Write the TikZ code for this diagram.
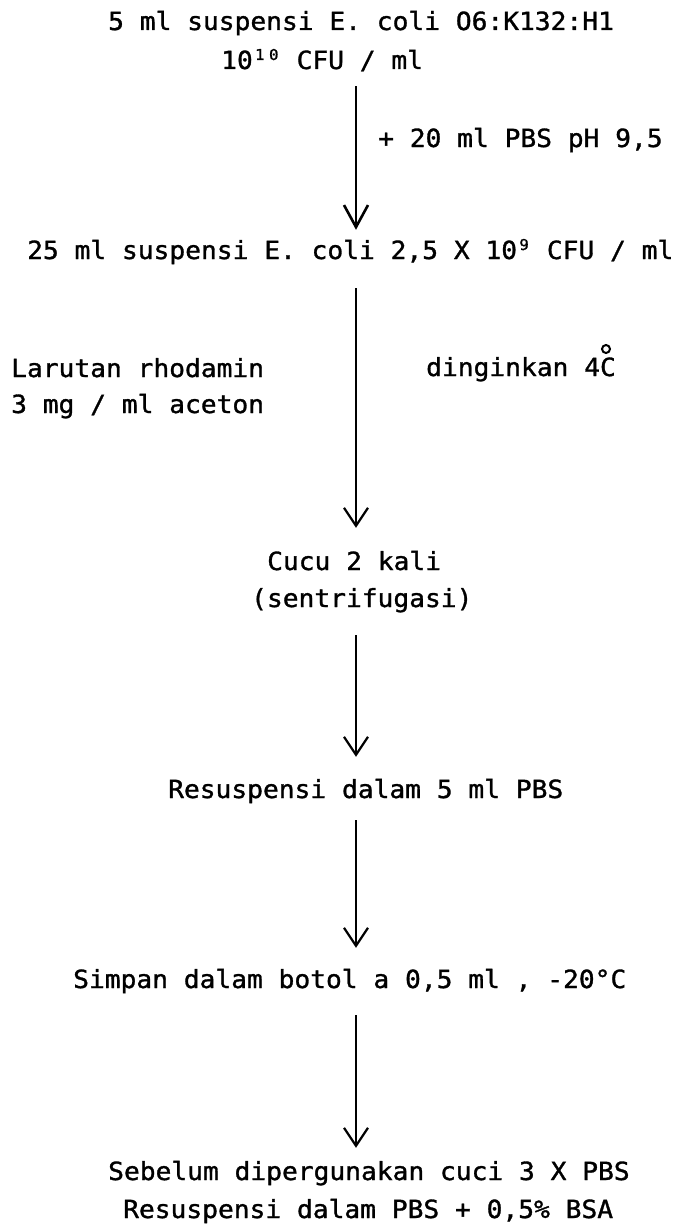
\documentclass[tikz,border=0pt]{standalone}
\usepackage{fontspec}
\setmainfont{DejaVu Sans Mono}[FakeStretch=1.05,FakeBold=1.2]
\usetikzlibrary{arrows.meta}
\newcommand\supc[1]{\makebox[14pt][c]{\raisebox{9pt}{\fontsize{15}{15}\selectfont #1}}}
\begin{document}
\begin{tikzpicture}[x=1pt,y=-1pt,
  txt/.style={anchor=base west,inner sep=0pt,text height=18pt,text depth=5pt,
    font=\fontsize{25}{28}\selectfont},
  flow/.style={line width=2.2pt,-{Straight Barb[length=18pt,width=24pt,line width=2.2pt]}},
  flowthick/.style={line width=2.8pt,-{Straight Barb[length=22pt,width=24pt,line width=2.6pt]}}]
\useasboundingbox (0,0) rectangle (684,1228);
\coordinate (axis) at (356,0);
\node[txt] (l1) at (108,30) {5 ml suspensi E. coli O6:K132:H1};
\node[txt] (l2) at (221,69) {10\supc{1}\supc{0} CFU / ml};
\node[txt] (pbs) at (378,147) {+ 20 ml PBS pH 9,5};
\node[txt] (l3) at (27,259) {25 ml suspensi E. coli 2,5 X 10\supc{9} CFU / ml};
\node[txt] (rho1) at (11,377) {Larutan rhodamin};
\node[txt] (rho2) at (11,413) {3 mg / ml aceton};
\node[txt] (cool) at (426,376) {dinginkan 4C};
\node[circle,draw,line width=2pt,minimum size=8pt,inner sep=0pt] (deg) at (606,349) {};
\node[txt] (wash1) at (267,570) {Cucu 2 kali};
\node[txt] (wash2) at (251,607) {(sentrifugasi)};
\node[txt] (res5) at (168,798) {Resuspensi dalam 5 ml PBS};
\node[txt] (store) at (73,988) {Simpan dalam botol a 0,5 ml , -20°C};
\node[txt] (use1) at (108,1180) {Sebelum dipergunakan cuci 3 X PBS};
\node[txt] (use2) at (123,1218) {Resuspensi dalam PBS + 0,5\% BSA};
\draw[flowthick,shorten <=12pt,shorten >=11pt] (l2.south -| axis) -- (l3.north -| axis);
\draw[flow,shorten <=24pt,shorten >=24pt] (l3.south -| axis) -- (wash1.north -| axis);
\draw[flow,shorten <=23pt,shorten >=23pt] (wash2.south -| axis) -- (res5.north -| axis);
\draw[flow,shorten <=17pt,shorten >=22pt] (res5.south -| axis) -- (store.north -| axis);
\draw[flow,shorten <=22pt,shorten >=14pt] (store.south -| axis) -- (use1.north -| axis);
\end{tikzpicture}
\end{document}
